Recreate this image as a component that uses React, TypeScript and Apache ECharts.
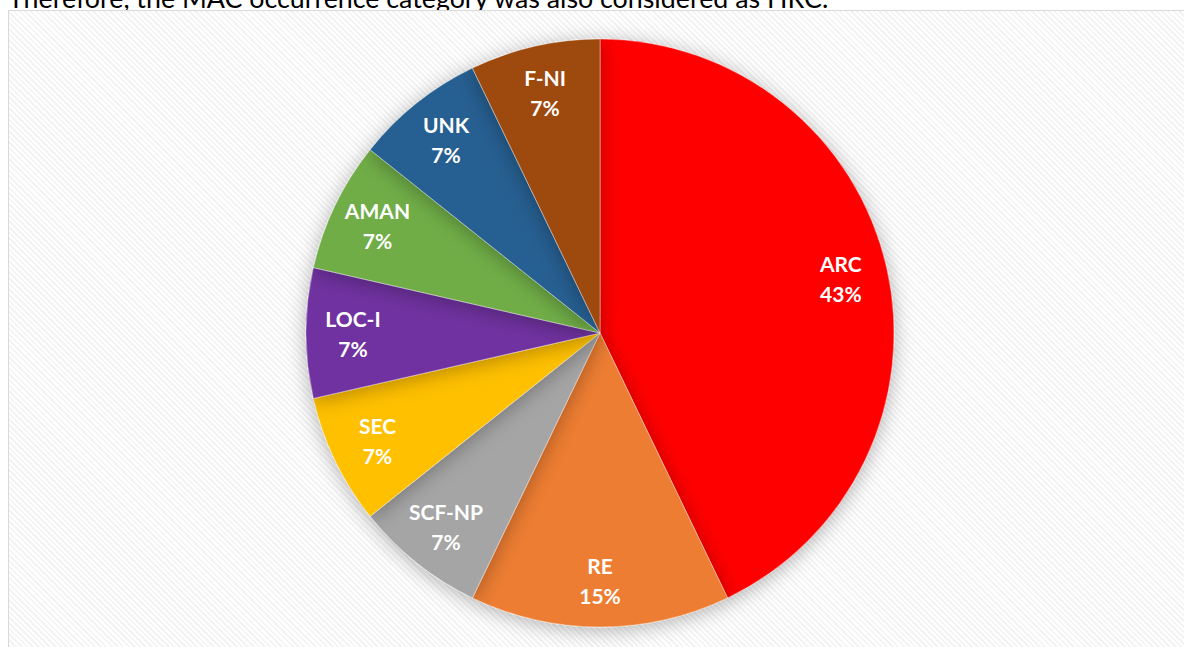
import React, { useEffect, useRef } from "react";
import * as echarts from "echarts";

const categories = ["ARC", "RE", "SCF-NP", "SEC", "LOC-I", "AMAN", "UNK", "F-NI"];
const counts = [6, 2, 1, 1, 1, 1, 1, 1];
const colors = ["#FF0000", "#ED7D31", "#A5A5A5", "#FFC000", "#7030A0", "#70AD47", "#255E91", "#9E480E"];
const captionText = "Therefore, the MAC occurrence category was also considered as HRC.";

export default function App() {
  const ref = useRef<HTMLDivElement>(null);
  useEffect(() => {
    if (!ref.current) return;
    const chart = echarts.init(ref.current, null, { renderer: "svg" });
    const data = categories.map((name, i) => ({ name, value: counts[i], itemStyle: { color: colors[i] } }));
    chart.setOption({
      animation: false,
      series: [
        {
          type: "pie",
          center: [600, 333],
          radius: [0, 294],
          startAngle: 90,
          clockwise: true,
          percentPrecision: 0,
          data,
          label: { show: false },
          labelLine: { show: false },
          emphasis: { disabled: true },
          itemStyle: {
            borderColor: "rgba(255,255,255,0.6)",
            borderWidth: 0.6,
            shadowBlur: 20,
            shadowColor: "rgba(0,0,0,0.3)",
            shadowOffsetY: 3,
          },
          z: 3,
        },
        {
          type: "pie",
          center: [600, 333],
          radius: [0, 488],
          startAngle: 90,
          clockwise: true,
          percentPrecision: 0,
          silent: true,
          data: categories.map((name, i) => ({ name, value: counts[i] })),
          itemStyle: { color: "rgba(0,0,0,0)" },
          labelLine: { show: false },
          emphasis: { disabled: true },
          label: {
            show: true,
            position: "inside",
            formatter: "{b}\n{d}%",
            color: "#fff",
            fontFamily: "Lato",
            fontWeight: "bold",
            fontSize: 21,
            lineHeight: 30,
            align: "center",
          },
          z: 4,
        },
      ],
    });
    return () => chart.dispose();
  }, []);
  return (
    <div style={{ position: "fixed", left: 0, top: 0, width: 1184, height: 647, background: "#fff", overflow: "hidden" }}>
      <div
        style={{
          position: "absolute",
          left: 8,
          top: -16,
          whiteSpace: "nowrap",
          fontFamily: "Lato",
          fontSize: 26.8,
          lineHeight: "28px",
          color: "#000",
        }}
      >
        {captionText}
      </div>
      <div
        style={{
          position: "absolute",
          left: 8,
          top: 10,
          width: 1200,
          height: 700,
          boxSizing: "border-box",
          border: "1.5px solid #d9d9d9",
          background:
            "repeating-linear-gradient(45deg, #f3f3f3 0px, #f3f3f3 1.8px, #ffffff 1.8px, #ffffff 4px)",
        }}
      />
      <div style={{ position: "absolute", left: 0, top: 0, width: 1184, height: 647 }} ref={ref} />
    </div>
  );
}
